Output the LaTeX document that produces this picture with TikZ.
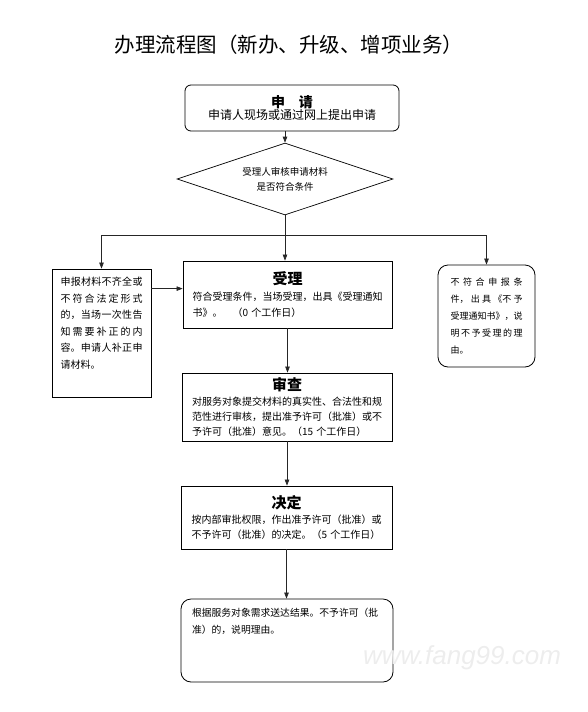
\documentclass[tikz,border=0pt]{standalone}
\usepackage{fontspec}
\usetikzlibrary{arrows.meta,shapes.geometric}
\setmainfont{Noto Sans CJK SC}
\newfontfamily\markfont{Liberation Sans}
\XeTeXlinebreaklocale "zh"
\XeTeXlinebreakskip=0pt plus 2pt minus 0.3pt

\begin{document}
\begin{tikzpicture}[x=1pt,y=-1pt,>={Triangle[length=6pt,width=4.5pt]},
    box/.style={draw=black,line width=0.8pt,inner sep=0pt},
    body/.style={font=\fontsize{10}{16}\selectfont},
    head/.style={font=\fontsize{15}{18}\selectfont\bfseries},
    link/.style={draw=black!85,line width=0.7pt}]
    \useasboundingbox (0,0) rectangle (587,712);

    \node (title) at (289,45) {\fontsize{20.5}{24}\selectfont 办理流程图（新办、升级、增项业务）};

    \node[box,rounded corners=6pt,minimum width=214pt,minimum height=46pt,align=center] (apply) at (292,108)
        {{\fontsize{14}{17}\selectfont\bfseries 申\quad 请}\\{\fontsize{12}{14}\selectfont 申请人现场或通过网上提出申请}};

    \node[diamond,draw=black,line width=0.7pt,aspect=3,minimum width=216pt,minimum height=72pt,inner sep=0pt,
          align=center,font=\fontsize{9.5}{15}\selectfont] (check) at (285,179)
        {受理人审核申请材料\\是否符合条件};

    \node[box,minimum width=99pt,minimum height=128pt] (supplement) at (101.5,333)
        {\parbox[c][112pt][t]{82pt}{\fontsize{10}{16.6}\selectfont
         申报材料不齐全或\linebreak 不符合法定形式\linebreak 的，当场一次性告\linebreak
         知需要补正的内\linebreak 容。申请人补正申\linebreak 请材料。}};

    \node[box,rounded corners=10pt,minimum width=97pt,minimum height=102pt] (refuse) at (486.5,316)
        {\parbox{72pt}{\fontsize{9}{17.2}\selectfont
         不符合申报条\linebreak 件，出具《不予\linebreak 受理通知书》，说\linebreak
         明不予受理的理\linebreak 由。}};

    \node[box,minimum width=209pt,minimum height=67pt,text width=190pt,align=left,body] (accept) at (287.5,294.5)
        {\centerline{\fontsize{15}{18}\selectfont\bfseries 受理}
         符合受理条件，当场受理，出具《受理通知\\书》。\quad（0 个工作日）};

    \node[box,minimum width=210pt,minimum height=68pt,text width=190pt,align=left,font=\fontsize{10}{15}\selectfont] (review) at (287,407)
        {\centerline{\fontsize{15}{18}\selectfont\bfseries 审查}
         对服务对象提交材料的真实性、合法性和规\\范性进行审核，提出准予许可（批准）或不\\予许可（批准）意见。（15 个工作日）};

    \node[box,minimum width=211pt,minimum height=63pt,text width=190pt,align=left,font=\fontsize{10}{15}\selectfont] (decide) at (286.5,517.5)
        {\centerline{\fontsize{15}{18}\selectfont\bfseries 决定}
         按内部审批权限，作出准予许可（批准）或\\不予许可（批准）的决定。（5 个工作日）};

    \node[box,rounded corners=10pt,minimum width=212pt,minimum height=83pt] (deliver) at (287,640.5)
        {\parbox[c][64pt][t]{190pt}{\fontsize{9.8}{17}\selectfont\raggedright
         根据服务对象需求送达结果。不予许可（批\\准）的，说明理由。}};

    \node[text=black!7,font=\markfont\fontsize{26}{30}\selectfont\itshape] (mark) at (462,658) {www.fang99.com};

    % connectors
    \coordinate (fork) at (check.south |- 0,235);
    \draw[link,->] (check.north |- apply.south) -- (check.north);
    \draw[link] (check.south) -- (fork);
    \draw[link,->] (fork) -| (supplement.north);
    \draw[link,->] (fork) -| (refuse.north);
    \draw[link,->] (fork) -- (fork |- accept.north);
    \draw[link,->] ([yshift=-20pt]supplement.north east) -- ([yshift=-20pt]supplement.north east -| accept.west);
    \draw[link,->] (accept.south) -- (accept.south |- review.north);
    \draw[link,->] (review.south) -- (review.south |- decide.north);
    \draw[link,->] (decide.south) -- (decide.south |- deliver.north);
\end{tikzpicture}
\end{document}
